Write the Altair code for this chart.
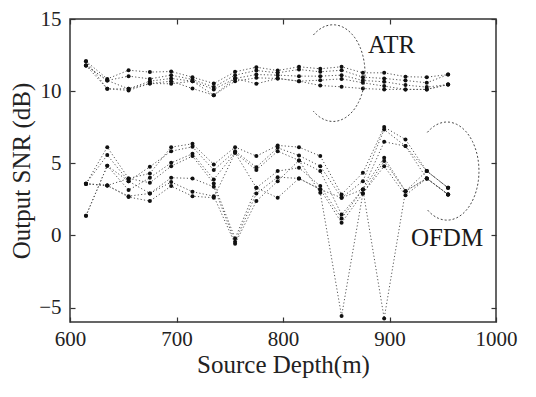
import altair as alt
import numpy as np
import pandas as pd

# Source depths (m)
depths = [615, 635, 655, 675, 695, 715, 735, 755, 775, 795,
          815, 835, 855, 875, 895, 915, 935, 955]

# ATR curves (plotted with +10 dB offset, as in the figure)
atr_1 = [12.08, 10.85, 11.45, 11.32, 11.36, 10.97, 10.53, 11.34, 11.66, 11.43, 11.69, 11.55, 11.69, 11.27, 11.27, 11.00, 10.97, 11.15]
atr_2 = [11.78, 10.74, 11.04, 10.85, 11.11, 10.81, 10.28, 11.11, 11.43, 11.27, 11.50, 11.34, 11.45, 10.97, 10.88, 10.74, 10.58, 11.15]
atr_3 = [11.78, 10.74, 10.16, 10.69, 10.88, 10.69, 10.12, 10.88, 11.15, 11.11, 11.04, 11.04, 11.11, 10.74, 10.65, 10.42, 10.28, 10.46]
atr_4 = [12.08, 10.16, 10.05, 10.53, 10.69, 10.18, 9.72, 10.69, 10.92, 10.88, 10.69, 10.76, 10.85, 10.58, 10.35, 10.12, 10.12, 10.46]
atr_5 = [11.78, 10.16, 10.16, 10.53, 10.51, 10.69, 9.72, 10.88, 10.51, 10.88, 10.69, 10.39, 10.30, 10.18, 10.12, 10.12, 10.12, 10.46]

# OFDM curves
ofdm_a = [3.58, 6.12, 3.95, 4.30, 6.12, 6.35, 4.92, 6.12, 5.50, 6.24, 6.12, 5.50, 2.84, 4.34, 7.51, 6.65, 4.46, 3.30]
ofdm_b = [3.58, 5.57, 3.76, 4.76, 5.84, 6.14, 4.53, 5.84, 4.73, 6.07, 5.54, 4.80, 2.61, 3.76, 7.34, 6.19, 3.95, 2.84]
ofdm_c = [1.36, 4.83, 3.14, 4.00, 5.03, 5.66, 3.88, 5.73, 4.53, 5.84, 5.20, 4.46, 1.45, 3.19, 6.49, 6.19, 4.46, 3.30]
ofdm_d = [3.58, 3.46, 3.95, 3.65, 4.80, 5.50, 3.60, -0.21, 3.30, 4.46, 4.69, 3.42, 1.18, 3.19, 5.38, 3.07, 3.95, 2.84]
ofdm_e = [3.58, 3.46, 2.72, 2.91, 4.00, 3.95, 3.37, -0.44, 2.91, 4.04, 3.95, 3.19, 0.88, 2.91, 5.15, 3.07, 3.95, 2.84]
ofdm_f = [1.36, 4.83, 3.76, 2.91, 3.70, 3.03, 2.72, -0.58, 2.38, 3.76, 5.20, 2.96, -5.59, 2.91, 4.80, 2.79, 3.95, 2.84]
ofdm_g = [3.58, 3.46, 2.66, 2.38, 3.42, 2.72, 2.61, 5.73, 3.30, 2.61, 3.95, 3.19, 2.61, 3.19, -5.75, 3.07, 4.46, 3.30]

series = {
    "atr_1": atr_1, "atr_2": atr_2, "atr_3": atr_3, "atr_4": atr_4, "atr_5": atr_5,
    "ofdm_a": ofdm_a, "ofdm_b": ofdm_b, "ofdm_c": ofdm_c, "ofdm_d": ofdm_d,
    "ofdm_e": ofdm_e, "ofdm_f": ofdm_f, "ofdm_g": ofdm_g,
}

x_ticks = [600, 700, 800, 900, 1000]
y_ticks = [-5, 0, 5, 10, 15]

# Annotation ellipses (center depth, center dB, half-width m, half-height dB)
ellipse_atr = (847, 11.25, 30, 3.35)
ellipse_ofdm = (954, 4.46, 30, 3.4)
labels = ["ATR", "OFDM"]
label_x = [902, 954]
label_y = [13.2, -0.2]

rows = []
for name, vals in series.items():
    for d, v in zip(depths, vals):
        rows.append({"depth": d, "snr": v, "series": name})
df = pd.DataFrame(rows)

arc_rows = []
t = np.linspace(-np.deg2rad(128), np.deg2rad(128), 80)
for name, (cx, cy, rx, ry) in {"atr": ellipse_atr, "ofdm": ellipse_ofdm}.items():
    for i, tt in enumerate(t):
        arc_rows.append({"depth": cx + rx * np.cos(tt), "snr": cy - ry * np.sin(tt),
                         "arc": name, "idx": i})
arc_df = pd.DataFrame(arc_rows)
lab_df = pd.DataFrame({"depth": label_x, "snr": label_y, "label": labels})

FONT = "Liberation Serif"
xs = alt.Scale(domain=[600, 1000], nice=False)
ys = alt.Scale(domain=[-6, 15], nice=False)

lines = alt.Chart(df).mark_line(strokeDash=[1.2, 2.2], strokeWidth=1, color="#555").encode(
    x=alt.X("depth:Q", scale=xs, axis=None),
    y=alt.Y("snr:Q", scale=ys, axis=None),
    detail="series:N",
)

points = alt.Chart(df).mark_circle(size=16, color="#111", opacity=1).encode(
    x=alt.X("depth:Q", scale=xs, title="Source Depth(m)",
            axis=alt.Axis(values=x_ticks, orient="bottom", offset=-5, tickSize=5, format="d",
                          labelFlush=False, labelPadding=6, titlePadding=3,
                          domain=False, grid=False)),
    y=alt.Y("snr:Q", scale=ys, title="Output SNR (dB)",
            axis=alt.Axis(values=y_ticks, orient="left", offset=-5, tickSize=5, format="d",
                          labelFlush=False, labelPadding=9, titlePadding=4,
                          domain=False, grid=False)),
)

arcs = alt.Chart(arc_df).mark_line(strokeDash=[2, 2], strokeWidth=1, color="#444").encode(
    x=alt.X("depth:Q", scale=xs, title=None,
            axis=alt.Axis(values=x_ticks, orient="top", offset=-5, tickSize=5,
                          labels=False, domain=False, grid=False)),
    y=alt.Y("snr:Q", scale=ys, title=None,
            axis=alt.Axis(values=y_ticks, orient="right", offset=-5, tickSize=5,
                          labels=False, domain=False, grid=False)),
    detail="arc:N",
    order="idx:Q",
)

texts = alt.Chart(lab_df).mark_text(font=FONT, fontSize=25, color="#1a1a1a", align="center",
                                     baseline="middle").encode(
    x=alt.X("depth:Q", scale=xs, axis=None),
    y=alt.Y("snr:Q", scale=ys, axis=None),
    text="label:N",
)

chart = alt.layer(lines, points, arcs, texts).resolve_axis(
    x="independent", y="independent"
).properties(
    width=426, height=303,
    autosize=alt.AutoSizeParams(type="none"),
    padding={"left": 62, "top": 11, "right": 32, "bottom": 65},
    background="white",
).configure_view(
    stroke="#333", strokeWidth=1.5
).configure_axis(
    labelFont=FONT, labelFontSize=21, labelColor="#222",
    titleFont=FONT, titleFontSize=25, titleFontWeight="normal", titleColor="#222",
    tickColor="#333", tickWidth=1.2,
)

chart.save("out.html", embed_options={"renderer": "svg", "actions": False})
